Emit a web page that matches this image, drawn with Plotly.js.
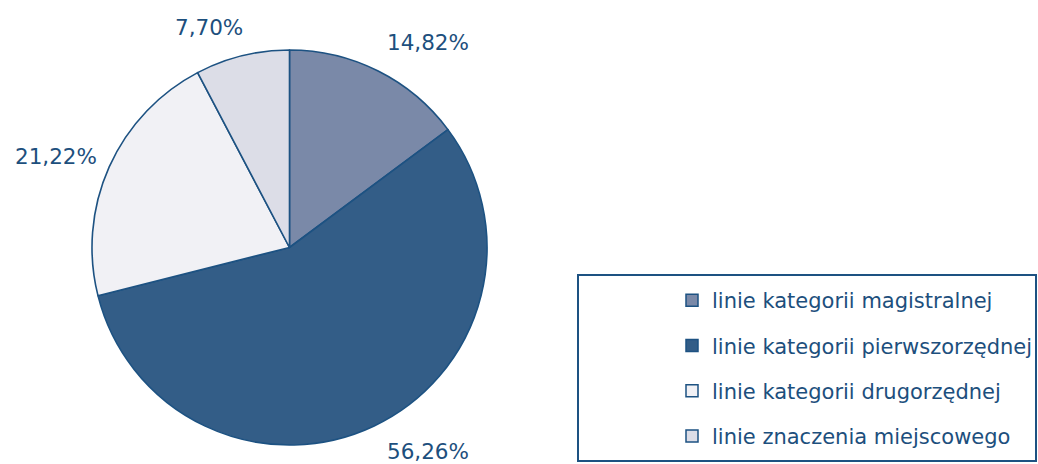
<!DOCTYPE html>
<html>
<head>
<meta charset="utf-8">
<script src="https://cdn.plot.ly/plotly-3.0.1.min.js"></script>
<style>html,body{margin:0;padding:0;background:#fff;}#chart{width:1038px;height:464px;}</style>
</head>
<body>
<div id="chart"></div>
<script>
// ---- data ----
var categories = [
  "linie kategorii magistralnej",
  "linie kategorii pierwszorzędnej",
  "linie kategorii drugorzędnej",
  "linie znaczenia miejscowego"
];
var shares = [14.82, 56.26, 21.22, 7.70];
var sliceColors = ["#7a89a8", "#335d87", "#f1f1f5", "#dcdde7"];

// ---- style / positions ----
var W = 1038, H = 464;
var edge = "#1d5282";
var textColor = "#1d4f7d";
var fontFam = "DejaVu Sans, sans-serif";
var labelPos = [[428, 42], [428, 451], [56, 156], [209, 27]]; // px centres of the % labels

function fmt(v) { return v.toFixed(2).replace(".", ",") + "%"; }

var pie = {
  type: "pie",
  labels: categories,
  values: shares,
  sort: false,
  direction: "clockwise",
  rotation: 0,
  textinfo: "none",
  hoverinfo: "label+percent",
  showlegend: false,
  marker: { colors: sliceColors, line: { color: edge, width: 1.6 } },
  domain: { x: [(289.5 - 197.5) / W, (289.5 + 197.5) / W], y: [1 - 445 / H, 1 - 50 / H] }
};

// legend entries (one per category, so they can be spaced like the original)
var legendTraces = categories.map(function (c, i) {
  return {
    type: "scatter", mode: "markers", x: [null], y: [null],
    name: c, legendgroup: "g" + i, showlegend: true, hoverinfo: "skip",
    marker: { symbol: "square", size: 12, color: sliceColors[i], line: { color: edge, width: 1.5 } }
  };
});

var annotations = shares.map(function (v, i) {
  return {
    xref: "paper", yref: "paper",
    x: labelPos[i][0] / W, y: 1 - labelPos[i][1] / H,
    xanchor: "center", yanchor: "middle",
    text: fmt(v), showarrow: false,
    font: { family: fontFam, size: 21.5, color: textColor }
  };
});

var layout = {
  width: W, height: H,
  margin: { l: 0, r: 0, t: 0, b: 0, pad: 0 },
  paper_bgcolor: "#ffffff", plot_bgcolor: "rgba(0,0,0,0)",
  xaxis: { visible: false }, yaxis: { visible: false },
  font: { family: fontFam, color: textColor },
  showlegend: true,
  legend: {
    x: 672 / W, y: 1 - 280 / H, xanchor: "left", yanchor: "top",
    bgcolor: "rgba(0,0,0,0)", borderwidth: 0,
    tracegroupgap: 15, traceorder: "grouped",
    font: { family: fontFam, size: 21, color: textColor }
  },
  shapes: [{
    type: "rect", xref: "paper", yref: "paper",
    x0: 578 / W, x1: 1036 / W, y0: 1 - 461 / H, y1: 1 - 275 / H,
    line: { color: edge, width: 2 }, fillcolor: "rgba(0,0,0,0)", layer: "below"
  }],
  annotations: annotations
};

Plotly.newPlot("chart", [pie].concat(legendTraces), layout, { staticPlot: true, displayModeBar: false });
</script>
</body>
</html>
